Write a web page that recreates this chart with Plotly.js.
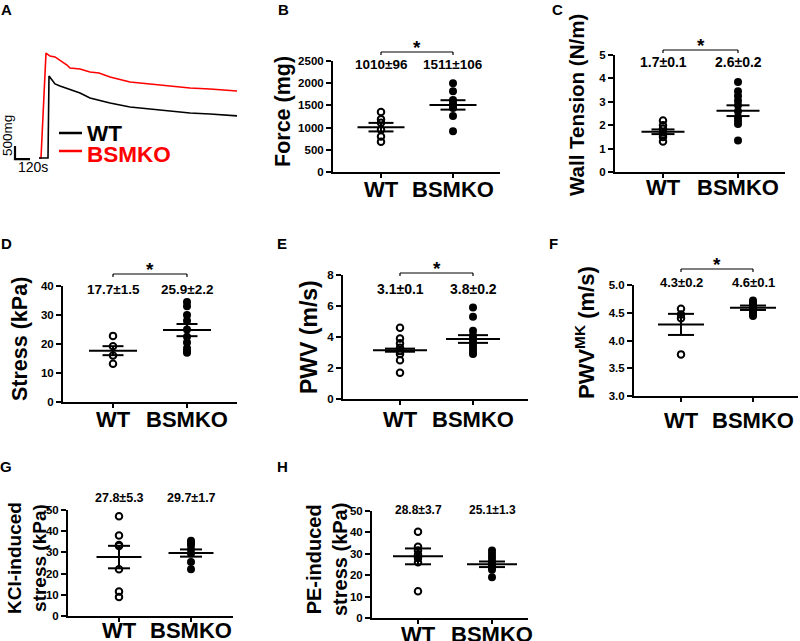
<!DOCTYPE html>
<html><head><meta charset="utf-8">
<script src="https://cdn.plot.ly/plotly-3.0.1.min.js"></script>
<style>html,body{margin:0;padding:0;background:#fff}</style>
</head><body><div id="chart" style="width:800px;height:641px"></div>
<script>
// ---------------- DATA ----------------
const groups = ['WT', 'BSMKO'];

// Panel A: force traces (time in s, force in mg)
const timeKO  = [0,16,56,88,128,168,192,224,248,328,408,480,568,728,888,1048,1208,1368,1584];
const forceKO = [0,0,4040,3925,3890,3770,3700,3580,3465,3425,3310,3270,3120,2925,2850,2770,2695,2655,2580];
const timeWT  = [0,72,80,104,128,168,248,328,408,568,728,888,1048,1208,1368,1584];
const forceWT = [0,0,3160,3000,2850,2770,2620,2500,2310,2120,1960,1890,1810,1730,1695,1620];
const scaleForce = 500;   // mg
const scaleTime = 120;    // s

// Panel B: Force (mg)
const forceWTpts = [1350,1190,1110,950,800,680];
const forceKOpts = [2000,1820,1620,1540,1500,1440,1260,920];
const forceMean = [1010,1511];
const forceSem  = [96,106];
const forceLabels = ['1010±96','1511±106'];

// Panel C: Wall tension (N/m)
const tensionWTpts = [2.2,2.0,1.85,1.7,1.6,1.5,1.3];
const tensionKOpts = [3.85,3.45,3.25,3.05,2.85,2.6,2.35,2.2,2.05,1.35];
const tensionMean = [1.72,2.62];
const tensionSem  = [0.1,0.23];
const tensionLabels = ['1.7±0.1','2.6±0.2'];

// Panel D: Stress (kPa)
const stressWTpts = [22.8,19.2,16.0,13.2];
const stressKOpts = [34.5,33,30,28,25,22.5,20.5,18.5,17.5,17];
const stressMean = [17.7,24.8];
const stressSem  = [1.55,2.1];
const stressLabels = ['17.7±1.5','25.9±2.2'];

// Panel E: PWV (m/s)
const pwvWTpts = [4.6,3.9,3.6,3.3,3.1,2.9,2.5,1.7];
const pwvKOpts = [5.9,5.3,4.4,4.1,3.9,3.8,3.6,3.4,3.2,3.0,2.9];
const pwvMean = [3.15,3.87];
const pwvSem  = [0.1,0.25];
const pwvLabels = ['3.1±0.1','3.8±0.2'];

// Panel F: PWV MK (m/s)
const pwvmkWTpts = [4.57,4.47,4.4,3.75];
const pwvmkKOpts = [4.72,4.69,4.66,4.63,4.6,4.58,4.56,4.53,4.5,4.47,4.44];
const pwvmkMean = [4.29,4.59];
const pwvmkSem  = [0.19,0.04];
const pwvmkLabels = ['4.3±0.2','4.6±0.1'];

// Panel G: KCl-induced stress (kPa)
const kclWTpts = [47,38,33.5,33,22,11.5,9];
const kclKOpts = [35.5,34.5,33.5,31.5,29.5,25.5,22];
const kclMean = [27.8,29.7];
const kclSem  = [5.3,1.7];
const kclLabels = ['27.8±5.3','29.7±1.7'];

// Panel H: PE-induced stress (kPa)
const peWTpts = [40.3,33.3,31.5,29.5,28,26,12.5];
const peKOpts = [31.5,30,28.5,27,25.5,24.5,23.5,22.5,19];
const peMean = [28.8,25.1];
const peSem  = [3.7,1.3];
const peLabels = ['28.8±3.7','25.1±1.3'];

// ---------------- LAYOUT HELPERS ----------------
const W = 800, H = 641;
const FONT = 'Liberation Sans, Arial, sans-serif';
const px = x => x / W;
const py = y => 1 - y / H;

const panels = [
  {n:2, wt:forceWTpts, ko:forceKOpts, mean:forceMean, sem:forceSem, labels:forceLabels,
   title:'Force (mg)', tx:283, ty:112, tsize:21.5, x0:333, x1:500, c0:381, c1:453, yTop:61, yBot:172,
   ymin:0, ymax:2500, dtick:500, fmt:'d', mh:23.5, sh:12.5, ly:64, lsize:13.5, bracket:52, star:true, lo:16},
  {n:3, wt:tensionWTpts, ko:tensionKOpts, mean:tensionMean, sem:tensionSem, labels:tensionLabels,
   title:'Wall Tension (N/m)', tx:576, ty:105, tsize:20.5, x0:615, x1:785, c0:663, c1:738, yTop:55, yBot:172,
   ymin:0, ymax:5, dtick:1, fmt:'d', mh:21.5, sh:11.5, ly:62, lsize:14, bracket:50, star:true, lo:14},
  {n:4, wt:stressWTpts, ko:stressKOpts, mean:stressMean, sem:stressSem, labels:stressLabels,
   title:'Stress (kPa)', tx:20, ty:339, tsize:21.5, x0:63, x1:237, c0:113, c1:187, yTop:286, yBot:402,
   ymin:0, ymax:40, dtick:10, fmt:'d', mh:24, sh:10.5, ly:289, lsize:13.5, bracket:274, star:true, lo:16},
  {n:5, wt:pwvWTpts, ko:pwvKOpts, mean:pwvMean, sem:pwvSem, labels:pwvLabels,
   title:'PWV (m/s)', tx:309, ty:337, tsize:23, x0:343, x1:528, c0:400, c1:473, yTop:275, yBot:399,
   ymin:0, ymax:8, dtick:2, fmt:'d', mh:27, sh:15, ly:289, lsize:14, bracket:273, star:true, lo:19},
  {n:6, wt:pwvmkWTpts, ko:pwvmkKOpts, mean:pwvmkMean, sem:pwvmkSem, labels:pwvmkLabels,
   title:'PWV<sup>MK</sup> (m/s)', tx:585, ty:333, tsize:22, x0:634, x1:798, c0:681, c1:753, yTop:285, yBot:396,
   ymin:3, ymax:5, dtick:0.5, fmt:'.1f', mh:23, sh:13, ly:282, lsize:13, bracket:269, star:true, lo:13.5},
  {n:7, wt:kclWTpts, ko:kclKOpts, mean:kclMean, sem:kclSem, labels:kclLabels,
   title:'KCl-induced<br>stress (kPa)', tx:27, ty:558, tsize:19, x0:68, x1:233, c0:119, c1:191, yTop:510, yBot:616,
   ymin:0, ymax:50, dtick:10, fmt:'d', mh:22.5, sh:11, ly:498, lsize:12.5, bracket:null, star:false, lo:13},
  {n:8, wt:peWTpts, ko:peKOpts, mean:peMean, sem:peSem, labels:peLabels,
   title:'PE-induced<br>stress (kPa)', tx:327, ty:560, tsize:20, x0:372, x1:528, c0:418, c1:492, yTop:511, yBot:618,
   ymin:0, ymax:50, dtick:10, fmt:'d', mh:25, sh:13, ly:510, lsize:12, bracket:null, star:false, lo:15}
];

const traces = [];
const layout = {
  width: W, height: H, margin: {l:0, r:0, t:0, b:0},
  paper_bgcolor: '#fff', plot_bgcolor: 'rgba(0,0,0,0)',
  showlegend: false, font: {family: FONT, color: '#000'},
  annotations: [], shapes: []
};

// ---------- Panel A ----------
// pixel frame of panel A: x 0..240, y 45..170
layout.xaxis = {domain:[px(0), px(240)], range:[-312, 1608], visible:false, fixedrange:true};
layout.yaxis = {domain:[py(170), py(45)], range:[-462, 4350], visible:false, fixedrange:true};
traces.push({x:timeKO, y:forceKO, xaxis:'x', yaxis:'y', mode:'lines', line:{color:'#ff0000', width:1.6}, hoverinfo:'skip'});
traces.push({x:timeWT, y:forceWT, xaxis:'x', yaxis:'y', mode:'lines', line:{color:'#000', width:1.6}, hoverinfo:'skip'});
const sbX = -192, sbY = -40;
traces.push({x:[sbX, sbX, sbX + scaleTime], y:[sbY + scaleForce, sbY, sbY], xaxis:'x', yaxis:'y',
  mode:'lines', line:{color:'#000', width:2.2}, hoverinfo:'skip'});
layout.annotations.push(
  {text:scaleForce + 'mg', xref:'paper', yref:'paper', x:px(8), y:py(136), textangle:-90, showarrow:false,
   font:{size:13.5, family:FONT}, xanchor:'center', yanchor:'middle', borderpad:0},
  {text:scaleTime + 's', xref:'paper', yref:'paper', x:px(33), y:py(167), showarrow:false,
   font:{size:14, family:FONT}, xanchor:'center', yanchor:'middle', borderpad:0},
  {text:'<b>' + groups[0] + '</b>', xref:'paper', yref:'paper', x:px(86), y:py(133), showarrow:false,
   font:{size:22.5, family:FONT, color:'#000'}, xanchor:'left', yanchor:'middle', borderpad:0},
  {text:'<b>' + groups[1] + '</b>', xref:'paper', yref:'paper', x:px(86), y:py(155), showarrow:false,
   font:{size:22.5, family:FONT, color:'#ff0000'}, xanchor:'left', yanchor:'middle', borderpad:0}
);
layout.shapes.push(
  {type:'line', xref:'paper', yref:'paper', x0:px(59), x1:px(82), y0:py(133), y1:py(133), line:{color:'#000', width:2.5}},
  {type:'line', xref:'paper', yref:'paper', x0:px(59), x1:px(82), y0:py(151), y1:py(151), line:{color:'#ff0000', width:2.5}}
);

// panel letters
[['A',6,9],['B',283,9],['C',557,9],['D',6,243],['E',282,243],['F',553,243],['G',6,466],['H',282,466]].forEach(([t,x,y]) => {
  layout.annotations.push({text:'<b>'+t+'</b>', xref:'paper', yref:'paper', x:px(x), y:py(y), showarrow:false,
    font:{size:15, family:FONT}, xanchor:'center', yanchor:'middle'});
});

// ---------- Scatter panels ----------
panels.forEach(p => {
  const sp = p.c1 - p.c0;
  const xmin = -(p.c0 - p.x0) / sp, xmax = 1 + (p.x1 - p.c1) / sp;
  const xa = 'x' + p.n, ya = 'y' + p.n;
  layout['xaxis' + p.n] = {
    domain:[px(p.x0), px(p.x1)], range:[xmin, xmax], anchor:ya, fixedrange:true,
    showline:true, linecolor:'#000', linewidth:2, showgrid:false, zeroline:false,
    ticks:'outside', ticklen:4, tickwidth:1.5, tickcolor:'#000',
    tickvals:[0,1], ticktext:groups, ticklabelstandoff: p.lo - 23,
    tickfont:{family:FONT, size:22, weight:'bold', color:'#000'}
  };
  layout['yaxis' + p.n] = {
    domain:[py(p.yBot), py(p.yTop)], range:[p.ymin, p.ymax], anchor:xa, fixedrange:true,
    showline:true, linecolor:'#000', linewidth:2, showgrid:false, zeroline:false,
    ticks:'outside', ticklen:5, tickwidth:2, tickcolor:'#000',
    tick0:p.ymin, dtick:p.dtick, tickformat:p.fmt,
    tickfont:{family:FONT, size:11.5, weight:'bold', color:'#000'}
  };
  // points
  traces.push({x:p.wt.map(() => 0), y:p.wt, xaxis:xa, yaxis:ya, mode:'markers', hoverinfo:'skip',
    marker:{symbol:'circle-open', size:6.5, color:'#000', line:{width:2, color:'#000'}}});
  traces.push({x:p.ko.map(() => 1), y:p.ko, xaxis:xa, yaxis:ya, mode:'markers', hoverinfo:'skip',
    marker:{symbol:'circle', size:8, color:'#000'}});
  // mean +- SEM
  const mh = p.mh / sp, sh = p.sh / sp;
  const lx = [], ly = [];
  [0,1].forEach(i => {
    const m = p.mean[i], s = p.sem[i];
    lx.push(i - mh, i + mh, null, i - sh, i + sh, null, i - sh, i + sh, null, i, i, null);
    ly.push(m, m, null, m + s, m + s, null, m - s, m - s, null, m - s, m + s, null);
  });
  traces.push({x:lx, y:ly, xaxis:xa, yaxis:ya, mode:'lines', line:{color:'#000', width:2}, hoverinfo:'skip', cliponaxis:false});
  // stat labels
  [0,1].forEach(i => {
    layout.annotations.push({text:'<b>' + p.labels[i] + '</b>', xref:xa, yref:'paper', x:i, y:py(p.ly),
      showarrow:false, font:{size:p.lsize, family:FONT}, xanchor:'center', yanchor:'middle'});
  });
  // axis title
  layout.annotations.push({text:'<b>' + p.title + '</b>', xref:'paper', yref:'paper', x:px(p.tx), y:py(p.ty),
    textangle:-90, showarrow:false, font:{size:p.tsize, family:FONT}, xanchor:'center', yanchor:'middle'});
  // significance bracket
  if (p.bracket !== null) {
    const yb = py(p.bracket), yt = py(p.bracket + 3);
    layout.shapes.push(
      {type:'line', xref:xa, yref:'paper', x0:0, x1:1, y0:yb, y1:yb, line:{color:'#000', width:1.2}},
      {type:'line', xref:xa, yref:'paper', x0:0, x1:0, y0:yb, y1:yt, line:{color:'#000', width:1.2}},
      {type:'line', xref:xa, yref:'paper', x0:1, x1:1, y0:yb, y1:yt, line:{color:'#000', width:1.2}}
    );
    if (p.star) {
      layout.annotations.push({text:'<b>*</b>', xref:xa, yref:'paper', x:0.5, y:py(p.bracket - 5),
        showarrow:false, font:{size:19, family:FONT}, xanchor:'center', yanchor:'middle'});
    }
  }
});

Plotly.newPlot('chart', traces, layout, {displayModeBar:false, staticPlot:true});
</script>
</body></html>
